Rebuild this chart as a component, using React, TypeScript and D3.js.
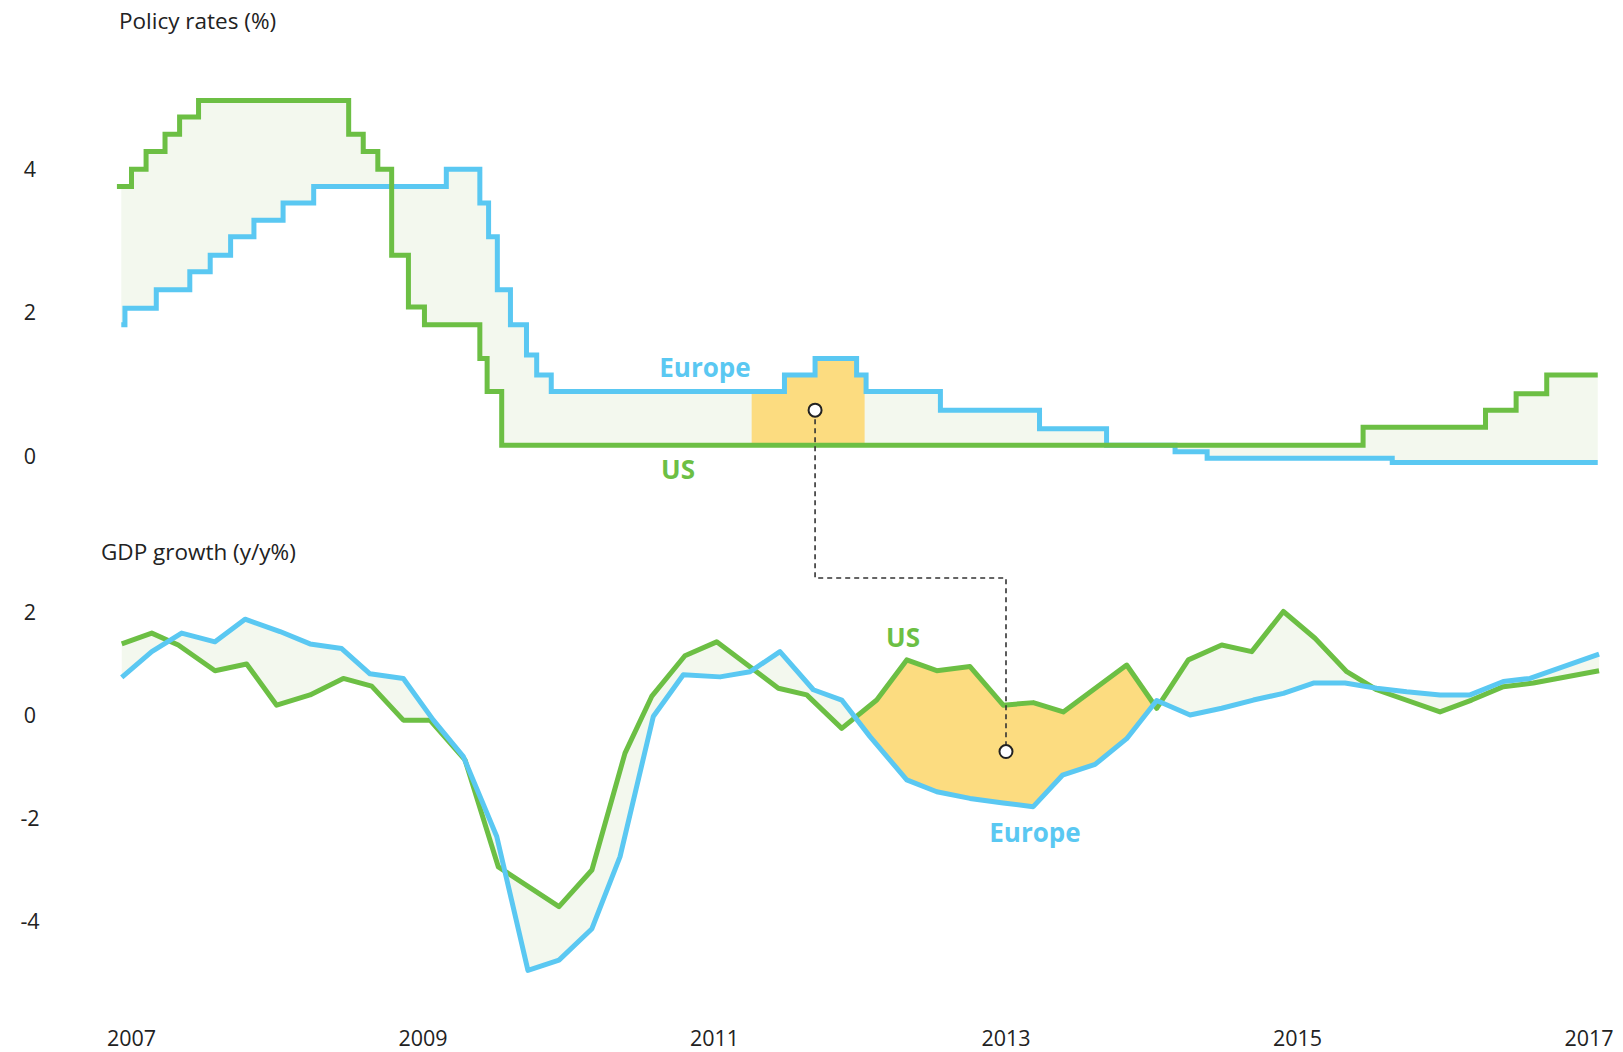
import React from 'react';
import * as d3 from 'd3';

// x axis labels
const yearTicks = [2007, 2009, 2011, 2013, 2015, 2017];
const rateTicks = [0, 2, 4];
const gdpTicks = [-4, -2, 0, 2];

// Policy rates (%), step series: date the rate changes -> new level
const usRateDates = [2006.9, 2007.0, 2007.1, 2007.23, 2007.33, 2007.46, 2008.49, 2008.59, 2008.69, 2008.785, 2008.9, 2009.01, 2009.39, 2009.44, 2009.54, 2015.45, 2016.29, 2016.5, 2016.71, 2017.06];
const usRateValues = [3.76, 4.0, 4.25, 4.49, 4.73, 4.96, 4.49, 4.25, 4.0, 2.8, 2.08, 1.83, 1.36, 0.9, 0.15, 0.4, 0.64, 0.87, 1.13, 1.13];

const euRateDates = [2006.93, 2006.955, 2007.17, 2007.4, 2007.54, 2007.68, 2007.84, 2008.04, 2008.25, 2009.16, 2009.39, 2009.45, 2009.51, 2009.6, 2009.71, 2009.78, 2009.88, 2011.48, 2011.69, 2011.975, 2012.04, 2012.55, 2013.23, 2013.69, 2014.16, 2014.38, 2015.65, 2017.06];
const euRateValues = [1.83, 2.06, 2.32, 2.57, 2.8, 3.06, 3.29, 3.53, 3.76, 4.0, 3.53, 3.06, 2.32, 1.83, 1.41, 1.13, 0.9, 1.13, 1.36, 1.13, 0.9, 0.64, 0.38, 0.15, 0.06, -0.03, -0.09, -0.09];

// GDP growth (y/y%)
const usGdpDates = [2006.933, 2007.139, 2007.321, 2007.573, 2007.79, 2007.996, 2008.225, 2008.453, 2008.648, 2008.865, 2009.048, 2009.288, 2009.517, 2009.933, 2010.159, 2010.386, 2010.569, 2010.797, 2011.015, 2011.438, 2011.633, 2011.873, 2012.113, 2012.319, 2012.525, 2012.753, 2012.981, 2013.187, 2013.393, 2013.828, 2014.034, 2014.251, 2014.48, 2014.686, 2014.903, 2015.12, 2015.338, 2015.543, 2015.978, 2016.195, 2016.412, 2016.618, 2017.069];
const usGdpValues = [1.39, 1.6, 1.37, 0.87, 1.0, 0.2, 0.4, 0.72, 0.57, -0.09, -0.09, -0.86, -2.94, -3.71, -3.0, -0.73, 0.37, 1.16, 1.43, 0.53, 0.4, -0.25, 0.3, 1.08, 0.87, 0.95, 0.2, 0.25, 0.07, 0.98, 0.14, 1.08, 1.37, 1.24, 2.02, 1.5, 0.85, 0.5, 0.07, 0.3, 0.56, 0.63, 0.87];

const euGdpDates = [2006.933, 2007.139, 2007.344, 2007.573, 2007.779, 2008.019, 2008.225, 2008.442, 2008.636, 2008.865, 2009.071, 2009.277, 2009.506, 2009.72, 2009.933, 2010.159, 2010.352, 2010.58, 2010.786, 2011.038, 2011.244, 2011.449, 2011.678, 2011.873, 2012.067, 2012.319, 2012.525, 2012.753, 2012.981, 2013.187, 2013.387, 2013.611, 2013.828, 2014.034, 2014.263, 2014.48, 2014.697, 2014.903, 2015.109, 2015.326, 2015.543, 2015.749, 2015.978, 2016.184, 2016.412, 2016.595, 2017.069];
const euGdpValues = [0.74, 1.24, 1.6, 1.43, 1.87, 1.63, 1.39, 1.3, 0.81, 0.72, -0.09, -0.8, -2.35, -4.95, -4.75, -4.14, -2.74, -0.02, 0.79, 0.75, 0.85, 1.24, 0.5, 0.3, -0.41, -1.25, -1.48, -1.61, -1.7, -1.77, -1.16, -0.95, -0.45, 0.29, 0.01, 0.14, 0.3, 0.43, 0.63, 0.63, 0.53, 0.46, 0.4, 0.4, 0.66, 0.72, 1.19];

// highlighted spans
const rateHighlight = [2011.255, 2012.03];
const gdpHighlight = [2011.965, 2014.01];
// annotation points
const rateMarker = { t: 2011.69, v: 0.64 };
const gdpMarker = { t: 2013.0, v: -0.7 };

const GREEN = '#6cbf44';
const BLUE = '#5ac8f2';
const PALE = '#f3f8ee';
const YELLOW = '#fcdc80';
const FONT = '"Open Sans", "Noto Sans", sans-serif';

const stepAt = (dates: number[], vals: number[], t: number) => {
  let v = vals[0];
  for (let i = 0; i < dates.length; i++) if (dates[i] <= t) v = vals[i];
  return v;
};

export default function App() {
  const width = 1623;
  const height = 1052;

  const x = d3.scaleLinear().domain([2007, 2017]).range([131.5, 1589]);
  const yRate = d3.scaleLinear().domain([0, 4]).range([456, 169.3]);
  const yGdp = d3.scaleLinear().domain([-4, 2]).range([921.5, 612.5]);

  // policy rates
  const usRate = usRateDates.map((t, i) => [t, usRateValues[i]] as [number, number]);
  const euRate = euRateDates.map((t, i) => [t, euRateValues[i]] as [number, number]);
  const stepLine = d3.line<[number, number]>()
    .x(d => x(d[0]))
    .y(d => yRate(d[1]))
    .curve(d3.curveStepAfter);

  const grid = Array.from(new Set([...usRateDates, ...euRateDates]))
    .sort((a, b) => a - b)
    .filter(t => t >= euRateDates[0]);
  const rateRows = grid.map(t => ({
    t,
    us: stepAt(usRateDates, usRateValues, t),
    eu: stepAt(euRateDates, euRateValues, t),
  }));
  const rateArea = d3.area<{ t: number; us: number; eu: number }>()
    .x(d => x(d.t))
    .y0(d => yRate(d.us))
    .y1(d => yRate(d.eu))
    .curve(d3.curveStepAfter)(rateRows) as string;

  // gdp
  const usGdp = usGdpDates.map((t, i) => [t, usGdpValues[i]] as [number, number]);
  const euGdp = euGdpDates.map((t, i) => [t, euGdpValues[i]] as [number, number]);
  const gdpLine = d3.line<[number, number]>().x(d => x(d[0])).y(d => yGdp(d[1]));
  const gdpArea = gdpLine([...usGdp, ...euGdp.slice().reverse()]) + 'Z';

  const midY = 578;
  const p1 = [x(rateMarker.t), yRate(rateMarker.v)];
  const p2 = [x(gdpMarker.t), yGdp(gdpMarker.v)];
  const connector = `M${p1[0]},${p1[1]}V${midY}H${p2[0]}V${p2[1]}`;

  return (
    <svg width={width} height={height} style={{ position: 'absolute', left: 0, top: 0, background: '#fff' }} fontFamily={FONT}>
      <defs>
        <clipPath id="rateHi">
          <rect x={x(rateHighlight[0])} y={0} width={x(rateHighlight[1]) - x(rateHighlight[0])} height={520} />
        </clipPath>
        <clipPath id="gdpHi">
          <rect x={x(gdpHighlight[0])} y={520} width={x(gdpHighlight[1]) - x(gdpHighlight[0])} height={480} />
        </clipPath>
      </defs>

      {/* titles */}
      <text x={119} y={29} fontSize={22.5} fill="#222">Policy rates (%)</text>
      <text x={101} y={560} fontSize={22.5} fill="#222">GDP growth (y/y%)</text>

      {/* y tick labels */}
      {rateTicks.map(t => (
        <text key={'r' + t} x={30} y={yRate(t)} dy="0.35em" textAnchor="middle" fontSize={21.5} fill="#222">{t}</text>
      ))}
      {gdpTicks.map(t => (
        <text key={'g' + t} x={30} y={yGdp(t)} dy="0.35em" textAnchor="middle" fontSize={21.5} fill="#222">{t}</text>
      ))}

      {/* x tick labels */}
      {yearTicks.map(t => (
        <text key={t} x={x(t)} y={1046} textAnchor="middle" fontSize={21.5} fill="#222">{t}</text>
      ))}

      {/* policy rates */}
      <path d={rateArea} fill={PALE} />
      <path d={rateArea} fill={YELLOW} clipPath="url(#rateHi)" />
      <path d={stepLine(euRate) as string} fill="none" stroke={BLUE} strokeWidth={5} />
      <path d={stepLine(usRate) as string} fill="none" stroke={GREEN} strokeWidth={5} />

      {/* gdp growth */}
      <path d={gdpArea} fill={PALE} />
      <path d={gdpArea} fill={YELLOW} clipPath="url(#gdpHi)" />
      <path d={gdpLine(usGdp) as string} fill="none" stroke={GREEN} strokeWidth={5} strokeLinejoin="round" />
      <path d={gdpLine(euGdp) as string} fill="none" stroke={BLUE} strokeWidth={5} strokeLinejoin="round" />

      {/* series labels */}
      <text x={705} y={377} textAnchor="middle" fontSize={26} fontWeight="bold" fill={BLUE}>Europe</text>
      <text x={678} y={479} textAnchor="middle" fontSize={26} fontWeight="bold" fill={GREEN}>US</text>
      <text x={903} y={647} textAnchor="middle" fontSize={26} fontWeight="bold" fill={GREEN}>US</text>
      <text x={1035} y={842} textAnchor="middle" fontSize={26} fontWeight="bold" fill={BLUE}>Europe</text>

      {/* connector */}
      <path d={connector} fill="none" stroke="#333" strokeWidth={1.6} strokeDasharray="5,4" />
      <circle cx={p1[0]} cy={p1[1]} r={6.5} fill="#fff" stroke="#222" strokeWidth={2} />
      <circle cx={p2[0]} cy={p2[1]} r={6.5} fill="#fff" stroke="#222" strokeWidth={2} />
    </svg>
  );
}
